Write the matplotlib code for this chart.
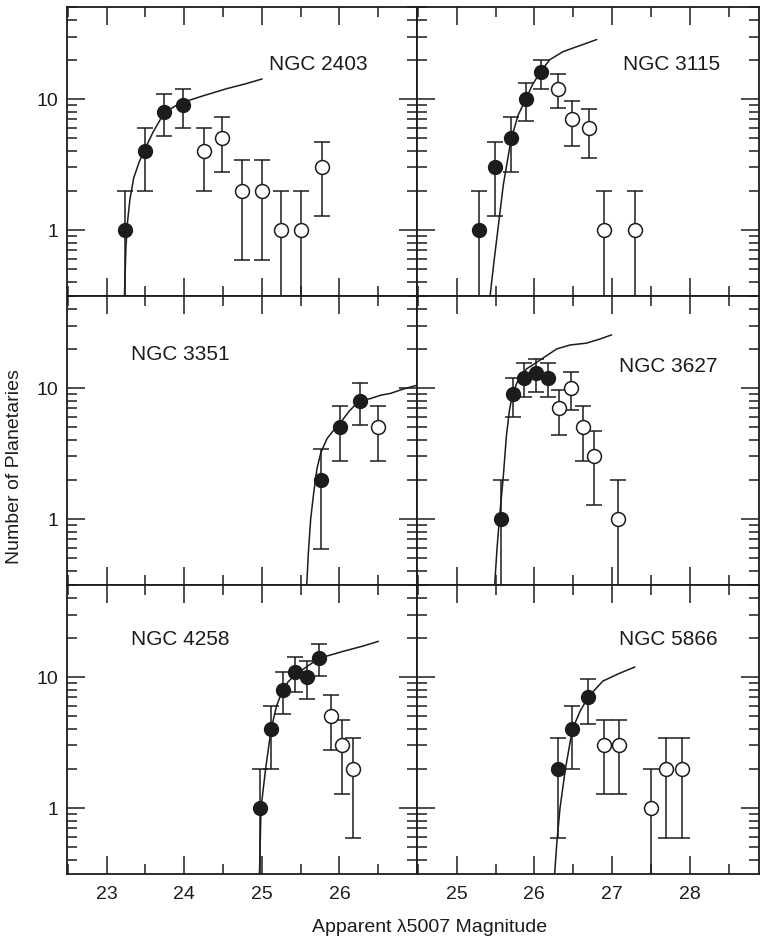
import numpy as np
import matplotlib.pyplot as plt
from matplotlib.ticker import LogLocator, MultipleLocator, NullFormatter, FixedLocator, FixedFormatter

plt.rcParams['font.family'] = ['Liberation Sans', 'DejaVu Sans']

INK = '#1c1c1c'

# NGC 2403 (left, top)
n2403_mag = [23.24, 23.49, 23.74, 23.99]
n2403_n = [1, 4, 8, 9]
n2403_mag_open = [24.25, 24.49, 24.75, 25.00, 25.25, 25.50, 25.77]
n2403_n_open = [4, 5, 2, 2, 1, 1, 3]
n2403_curve_mag = [23.23, 23.25, 23.27, 23.30, 23.35, 23.42, 23.49, 23.60, 23.74, 23.88, 24.00, 24.25, 24.55, 24.80, 25.00]
n2403_curve_n = [0.31, 0.75, 1.15, 1.7, 2.5, 3.3, 4.1, 5.6, 7.8, 8.8, 9.5, 10.6, 12.0, 13.1, 14.2]

# NGC 3115 (right, top)
n3115_mag = [25.29, 25.49, 25.70, 25.89, 26.09]
n3115_n = [1, 3, 5, 10, 16]
n3115_mag_open = [26.30, 26.49, 26.70, 26.90, 27.30]
n3115_n_open = [12, 7, 6, 1, 1]
n3115_curve_mag = [25.43, 25.46, 25.49, 25.53, 25.60, 25.70, 25.79, 25.89, 25.98, 26.09, 26.20, 26.37, 26.58, 26.80]
n3115_curve_n = [0.31, 0.45, 0.64, 1.0, 2.2, 4.9, 7.5, 10.0, 13.0, 16.5, 20.0, 23.0, 25.5, 28.4]

# NGC 3351 (left, middle)
n3351_mag = [25.76, 26.01, 26.26]
n3351_n = [2, 5, 8]
n3351_mag_open = [26.50]
n3351_n_open = [5]
n3351_curve_mag = [25.58, 25.60, 25.63, 25.67, 25.71, 25.76, 25.84, 25.93, 26.01, 26.13, 26.26, 26.40, 26.53, 26.66, 26.82, 27.00]
n3351_curve_n = [0.32, 0.55, 1.0, 1.6, 2.4, 3.2, 4.1, 4.8, 5.4, 6.7, 8.0, 8.3, 8.8, 9.1, 9.8, 10.5]

# NGC 3627 (right, middle)
n3627_mag = [25.57, 25.72, 25.87, 26.02, 26.17]
n3627_n = [1, 9, 12, 13, 12]
n3627_mag_open = [26.32, 26.47, 26.62, 26.77, 27.07]
n3627_n_open = [7, 10, 5, 3, 1]
n3627_curve_mag = [25.49, 25.52, 25.55, 25.60, 25.64, 25.68, 25.72, 25.79, 25.90, 26.03, 26.16, 26.29, 26.46, 26.67, 26.84, 26.99]
n3627_curve_n = [0.32, 0.6, 1.0, 2.1, 4.3, 6.8, 9.0, 11.5, 14.0, 15.7, 17.7, 19.9, 21.3, 22.0, 23.6, 25.4]

# NGC 4258 (left, bottom)
n4258_mag = [24.98, 25.12, 25.27, 25.43, 25.58, 25.74]
n4258_n = [1, 4, 8, 11, 10, 14]
n4258_mag_open = [25.89, 26.03, 26.18]
n4258_n_open = [5, 3, 2]
n4258_curve_mag = [24.97, 24.99, 25.05, 25.12, 25.19, 25.27, 25.34, 25.41, 25.58, 25.74, 25.90, 26.05, 26.30, 26.50]
n4258_curve_n = [0.31, 1.0, 2.0, 4.0, 6.0, 8.0, 9.2, 10.1, 12.0, 13.9, 14.8, 15.7, 17.2, 18.7]

# NGC 5866 (right, bottom)
n5866_mag = [26.30, 26.49, 26.69]
n5866_n = [2, 4, 7]
n5866_mag_open = [26.90, 27.09, 27.50, 27.69, 27.90]
n5866_n_open = [3, 3, 1, 2, 2]
n5866_curve_mag = [26.26, 26.29, 26.33, 26.40, 26.49, 26.59, 26.69, 26.88, 27.10, 27.29]
n5866_curve_n = [0.31, 0.55, 1.0, 2.0, 4.0, 5.5, 7.0, 9.3, 10.7, 11.9]

panels = [
    ('NGC 2403', 0, 0, (0.577, 0.785), n2403_mag, n2403_n, n2403_mag_open, n2403_n_open, n2403_curve_mag, n2403_curve_n),
    ('NGC 3115', 0, 1, (0.602, 0.785), n3115_mag, n3115_n, n3115_mag_open, n3115_n_open, n3115_curve_mag, n3115_curve_n),
    ('NGC 3351', 1, 0, (0.183, 0.782), n3351_mag, n3351_n, n3351_mag_open, n3351_n_open, n3351_curve_mag, n3351_curve_n),
    ('NGC 3627', 1, 1, (0.591, 0.740), n3627_mag, n3627_n, n3627_mag_open, n3627_n_open, n3627_curve_mag, n3627_curve_n),
    ('NGC 4258', 2, 0, (0.183, 0.796), n4258_mag, n4258_n, n4258_mag_open, n4258_n_open, n4258_curve_mag, n4258_curve_n),
    ('NGC 5866', 2, 1, (0.591, 0.796), n5866_mag, n5866_n, n5866_mag_open, n5866_n_open, n5866_curve_mag, n5866_curve_n),
]

W, H = 760, 945
col_left = [67, 417]
col_width = [350, 342]
row_top = [8, 297, 586]
row_h = 289
xlims = [(22.49, 27.0), (24.49, 28.89)]
xticks = [[23, 24, 25, 26], [25, 26, 27, 28]]

fig = plt.figure(figsize=(7.6, 9.45), dpi=100)

for name, row, col, txt, mag, n, mag_o, n_o, cmag, cn in panels:
    ax = fig.add_axes([col_left[col] / W, 1 - (row_top[row] + row_h) / H,
                       col_width[col] / W, row_h / H])
    ax.set_yscale('log')
    ax.set_xlim(*xlims[col])
    ax.set_ylim(0.313, 50.4)

    ax.plot(cmag, cn, color=INK, lw=1.1, zorder=2)
    ax.errorbar(mag, n, yerr=np.sqrt(n), fmt='o', ms=10, mfc=INK, mec=INK,
                ecolor=INK, elinewidth=1.1, capsize=5.5, capthick=1.1, zorder=3)
    ax.errorbar(mag_o, n_o, yerr=np.sqrt(n_o), fmt='o', ms=10, mfc='white', mec=INK,
                mew=1.1, ecolor=INK, elinewidth=1.1, capsize=5.5, capthick=1.1, zorder=3)

    ax.text(txt[0], txt[1], name, transform=ax.transAxes, fontsize=15,
            ha='left', va='baseline', color=INK)

    ax.xaxis.set_major_locator(FixedLocator(xticks[col]))
    ax.xaxis.set_minor_locator(MultipleLocator(0.5))
    ax.yaxis.set_major_locator(LogLocator(base=10, numticks=10))
    ax.yaxis.set_minor_locator(LogLocator(base=10, subs=np.arange(2, 10), numticks=10))
    ax.yaxis.set_minor_formatter(NullFormatter())
    ax.tick_params(which='both', direction='in', top=True, right=True,
                   color=INK, width=1.1, labelsize=14, labelcolor=INK)
    ax.tick_params(which='major', length=13)
    ax.tick_params(which='minor', length=7)
    ax.tick_params(axis='x', pad=8)
    ax.tick_params(axis='y', pad=6)
    if row != 2:
        ax.tick_params(axis='x', labelbottom=False)
    if col != 0:
        ax.tick_params(axis='y', labelleft=False)
    else:
        ax.yaxis.set_major_formatter(FixedFormatter(['1', '10']))
        ax.yaxis.set_major_locator(FixedLocator([1, 10]))
    for s in ax.spines.values():
        s.set_linewidth(1.3)
        s.set_color(INK)

fig.text(430 / W, 1 - 928 / H, 'Apparent \u03bb5007 Magnitude', fontsize=14,
         ha='center', va='center', color=INK)
fig.text(15 / W, 1 - 467 / H, 'Number of Planetaries', fontsize=14, rotation=90,
         ha='center', va='center', color=INK)

fig.savefig('out.png', dpi=100)
